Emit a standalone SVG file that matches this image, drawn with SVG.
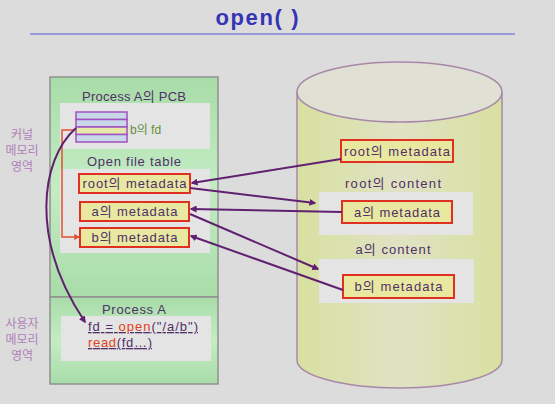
<svg xmlns="http://www.w3.org/2000/svg" width="555" height="404" viewBox="0 0 555 404">
<style>
.t{font-family:"Liberation Sans","Noto Sans CJK KR",sans-serif;fill:#503068;font-size:13px}
.k{font-family:"Noto Sans CJK KR",sans-serif;fill:#b080b8;font-size:12px;text-anchor:middle}
.box{fill:#e8e8a0;stroke:#e03020;stroke-width:2}
.lite{fill:#e4e4e4}
.arr{stroke:#602070;stroke-width:2;fill:none;marker-end:url(#ah)}
</style>
<defs>
<marker id="ah" viewBox="0 0 10 10" refX="8" refY="5" markerWidth="3.5" markerHeight="3.5" orient="auto"><path d="M0,0 L10,5 L0,10 z" fill="#602070"/></marker>
<marker id="ahr" viewBox="0 0 10 10" refX="8" refY="5" markerWidth="4" markerHeight="4" orient="auto"><path d="M0,0 L10,5 L0,10 z" fill="#e05030"/></marker>
<linearGradient id="gr" x1="0" y1="0" x2="0" y2="1"><stop offset="0" stop-color="#a8dca8"/><stop offset="0.5" stop-color="#c4ecc4"/><stop offset="1" stop-color="#a8dca8"/></linearGradient>
<linearGradient id="cy" x1="0" y1="0" x2="1" y2="0"><stop offset="0" stop-color="#d8e0a0"/><stop offset="0.5" stop-color="#e0e2c4"/><stop offset="1" stop-color="#d8e0a0"/></linearGradient>
</defs>
<rect width="555" height="404" fill="#dcdcdc"/>
<g id="title">
<text x="257" y="25" text-anchor="middle" font-family="Liberation Sans,sans-serif" font-weight="bold" font-size="22" fill="#3434b4" textLength="83" lengthAdjust="spacing">open( )</text>
<line x1="30" y1="34" x2="515" y2="34" stroke="#9a9ad8" stroke-width="2"/>
</g>
<g id="labels">
<text class="k" x="22" y="139">커널</text>
<text class="k" x="22" y="155">메모리</text>
<text class="k" x="22" y="171">영역</text>
<text class="k" x="22" y="328">사용자</text>
<text class="k" x="22" y="344">메모리</text>
<text class="k" x="22" y="360">영역</text>
</g>
<g id="kernel">
<rect x="50" y="77" width="168" height="220" fill="url(#gr)" stroke="#909090" stroke-width="1.5"/>
<text class="t" x="134" y="101" text-anchor="middle" textLength="104" lengthAdjust="spacing">Process A의 PCB</text>
<rect class="lite" x="60" y="103" width="150" height="46"/>
<text class="t" x="134" y="166" text-anchor="middle" textLength="94" lengthAdjust="spacing">Open file table</text>
<rect class="lite" x="60" y="169" width="150" height="84"/>
</g>
<g id="fdtable">
<rect x="76" y="112" width="51" height="7.5" fill="#c8d8e8" stroke="#a050c0" stroke-width="1.5"/>
<rect x="76" y="119.5" width="51" height="7.5" fill="#c8d8e8" stroke="#a050c0" stroke-width="1.5"/>
<rect x="76" y="127" width="51" height="7.5" fill="#e8e8a8" stroke="#a050c0" stroke-width="1.5"/>
<rect x="76" y="134.5" width="51" height="7.5" fill="#c8d8e8" stroke="#a050c0" stroke-width="1.5"/>
<text class="t" x="130" y="134" style="fill:#609040;font-size:12px">b의 fd</text>
</g>
<g id="oft-root"><rect class="box" x="79" y="174" width="111" height="19"/><text class="t" x="134.5" y="188" text-anchor="middle" textLength="104" lengthAdjust="spacing">root의 metadata</text></g>
<g id="oft-a"><rect class="box" x="80" y="202" width="109" height="19"/><text class="t" x="134.5" y="216" text-anchor="middle" textLength="86" lengthAdjust="spacing">a의 metadata</text></g>
<g id="oft-b"><rect class="box" x="80" y="228" width="109" height="19"/><text class="t" x="134.5" y="242" text-anchor="middle" textLength="86" lengthAdjust="spacing">b의 metadata</text></g>
<g id="processA">
<rect x="50" y="297" width="168" height="87" fill="url(#gr)" stroke="#909090" stroke-width="1.5"/>
<text class="t" x="134" y="314" text-anchor="middle" textLength="64" lengthAdjust="spacing">Process A</text>
<rect class="lite" x="61" y="316" width="150" height="45"/>
<text class="t" x="88" y="331" text-decoration="underline" textLength="110" lengthAdjust="spacing"><tspan>fd = </tspan><tspan style="fill:#e04020">open</tspan><tspan>("/a/b")</tspan></text>
<text class="t" x="88" y="347" text-decoration="underline" textLength="64" lengthAdjust="spacing"><tspan style="fill:#e04020">read</tspan><tspan>(fd…)</tspan></text>
</g>
<g id="disk">
<path d="M297,92 L297,360 A102.5,28 0 0 0 502,360 L502,92" fill="url(#cy)" stroke="#a888a8" stroke-width="1.5"/>
<ellipse cx="399.5" cy="92" rx="102.5" ry="30" fill="#e0e0d4" stroke="#a888a8" stroke-width="1.5"/>
<text class="t" x="393" y="188" text-anchor="middle" textLength="96" lengthAdjust="spacing">root의 content</text>
<rect class="lite" x="319" y="192" width="154" height="43"/>
<text class="t" x="393" y="254" text-anchor="middle" textLength="75" lengthAdjust="spacing">a의 content</text>
<rect class="lite" x="319" y="259" width="155" height="44"/>
</g>
<g id="disk-root"><rect class="box" x="341" y="140" width="112" height="22"/><text class="t" x="397" y="156" text-anchor="middle" textLength="106" lengthAdjust="spacing">root의 metadata</text></g>
<g id="disk-a"><rect class="box" x="342" y="201" width="110" height="22"/><text class="t" x="397" y="217" text-anchor="middle" textLength="86" lengthAdjust="spacing">a의 metadata</text></g>
<g id="disk-b"><rect class="box" x="343" y="275" width="111" height="23"/><text class="t" x="398.5" y="291" text-anchor="middle" textLength="88" lengthAdjust="spacing">b의 metadata</text></g>
<g id="connectors">
<path d="M76,130 L62,130 L62,237 L79,237" stroke="#e05030" stroke-width="1.5" fill="none" marker-end="url(#ahr)"/>
<path class="arr" d="M341,159 L192,183"/>
<path class="arr" d="M190,188 L315,203"/>
<path class="arr" d="M342,212 L191,209"/>
<path class="arr" d="M190,214 L318,269"/>
<path class="arr" d="M343,290 L191,236"/>
<path class="arr" d="M76,128 C40,160 30,240 85,322"/>
</g>
</svg>
